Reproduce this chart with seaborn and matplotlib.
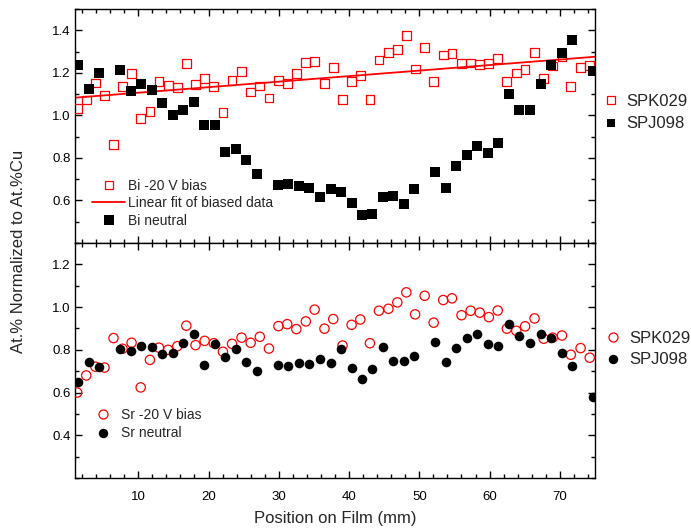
import numpy as np
import pandas as pd
import matplotlib
matplotlib.use("Agg")
import matplotlib.pyplot as plt
from matplotlib.lines import Line2D
from matplotlib.ticker import MultipleLocator, FormatStrFormatter
import seaborn as sns

# ---------------- data ----------------
bias_x = [1.31, 2.6, 3.9, 5.2, 6.48, 7.76, 9.05, 10.35, 11.66, 12.95, 14.25, 15.56, 16.84,
          18.15, 19.45, 20.75, 22.05, 23.35, 24.7, 26.0, 27.3, 28.6, 29.95, 31.2, 32.5, 33.85,
          35.1, 36.5, 37.75, 39.07, 40.36, 41.6, 42.97, 44.25, 45.6, 46.87, 48.15, 49.4, 50.76,
          52.04, 53.4, 54.65, 56.0, 57.3, 58.6, 59.9, 61.16, 62.45, 63.8, 65.05, 66.4, 67.7,
          68.98, 70.3, 71.56, 72.95, 74.25]
bi_bias = [1.032, 1.072, 1.152, 1.093, 0.863, 1.135, 1.197, 0.987, 1.020, 1.158,
           1.139, 1.132, 1.244, 1.144, 1.172, 1.135, 1.012, 1.165, 1.206, 1.110,
           1.138, 1.082, 1.165, 1.151, 1.197, 1.247, 1.252, 1.151, 1.224, 1.076,
           1.161, 1.189, 1.076, 1.260, 1.294, 1.311, 1.375, 1.218, 1.319, 1.160,
           1.284, 1.291, 1.244, 1.246, 1.240, 1.244, 1.269, 1.158, 1.199, 1.216,
           1.296, 1.174, 1.232, 1.275, 1.137, 1.225, 1.236]
sr_bias = [0.600, 0.680, 0.721, 0.717, 0.855, 0.805, 0.833, 0.624, 0.753, 0.810,
           0.800, 0.817, 0.913, 0.822, 0.842, 0.831, 0.791, 0.828, 0.857, 0.833,
           0.861, 0.806, 0.911, 0.920, 0.897, 0.933, 0.988, 0.899, 0.944, 0.820,
           0.917, 0.942, 0.831, 0.983, 0.992, 1.022, 1.069, 0.966, 1.053, 0.927,
           1.033, 1.041, 0.962, 0.983, 0.974, 0.953, 0.984, 0.899, 0.889, 0.910,
           0.947, 0.852, 0.857, 0.867, 0.777, 0.808, 0.763]

neutral_x = [1.45, 2.97, 4.44, 7.43, 8.92, 10.43, 11.95, 13.45, 14.94, 16.41, 17.94, 19.39,
             20.88, 22.35, 23.87, 25.35, 26.86, 29.86, 31.36, 32.85, 34.3, 35.84, 37.36, 38.84,
             40.36, 41.82, 43.32, 44.82, 46.3, 47.8, 49.3, 52.29, 53.8, 55.27, 56.8, 58.27,
             59.78, 61.26, 62.73, 64.25, 65.77, 67.25, 68.76, 70.28, 71.75, 74.65]
bi_neutral = [1.238, 1.123, 1.197, 1.213, 1.116, 1.146, 1.119, 1.060, 1.004, 1.023,
              1.062, 0.957, 0.956, 0.828, 0.843, 0.790, 0.726, 0.672, 0.678, 0.667,
              0.658, 0.614, 0.656, 0.642, 0.586, 0.530, 0.538, 0.614, 0.623, 0.584,
              0.655, 0.734, 0.659, 0.762, 0.812, 0.856, 0.825, 0.870, 1.101, 1.027,
              1.024, 1.146, 1.235, 1.294, 1.353, 1.210]
sr_neutral = [0.650, 0.741, 0.719, 0.806, 0.796, 0.819, 0.811, 0.780, 0.786, 0.831,
              0.875, 0.728, 0.825, 0.767, 0.805, 0.745, 0.703, 0.730, 0.722, 0.739,
              0.735, 0.758, 0.739, 0.802, 0.716, 0.664, 0.711, 0.814, 0.747, 0.749,
              0.769, 0.838, 0.745, 0.808, 0.855, 0.873, 0.827, 0.819, 0.920, 0.867,
              0.833, 0.875, 0.857, 0.784, 0.725, 0.578]

top_legend_labels = ["Bi -20 V bias", "Linear fit of biased data", "Bi neutral"]
bottom_legend_labels = ["Sr -20 V bias", "Sr neutral"]
sample_labels = ["SPK029", "SPJ098"]
x_label = "Position on Film (mm)"
y_label = "At.% Normalized to At.%Cu"

# ---------------- style ----------------
sns.set_theme(style="ticks")
plt.rcParams["font.family"] = ["Liberation Sans", "DejaVu Sans"]
plt.rcParams.update({
    "axes.linewidth": 1.0,
    "xtick.direction": "in", "ytick.direction": "in",
    "xtick.major.size": 5, "ytick.major.size": 5,
    "xtick.minor.size": 3, "ytick.minor.size": 3,
    "xtick.major.width": 1.0, "ytick.major.width": 1.0,
    "xtick.minor.width": 1.0, "ytick.minor.width": 1.0,
    "xtick.color": "black", "ytick.color": "black",
    "xtick.labelsize": 9.5, "ytick.labelsize": 9.5,
    "axes.edgecolor": "black",
})

RED = "#ff0000"
fig = plt.figure(figsize=(6.91, 5.32), dpi=100)
L, W = 75 / 691, 520 / 691
ax_top = fig.add_axes([L, 1 - 243 / 532, W, 234 / 532])
ax_bot = fig.add_axes([L, 1 - 478 / 532, W, 235 / 532])

for ax in (ax_top, ax_bot):
    ax.set_xlim(1, 75)

df_bias = pd.DataFrame({"x": bias_x, "bi": bi_bias, "sr": sr_bias})
df_neu = pd.DataFrame({"x": neutral_x, "bi": bi_neutral, "sr": sr_neutral})

# top panel
sns.regplot(data=df_bias, x="x", y="bi", ax=ax_top, scatter=False, ci=None,
            truncate=False, color=RED, line_kws={"lw": 1.3})
sns.scatterplot(data=df_bias, x="x", y="bi", ax=ax_top, marker="s", s=40,
                facecolor="none", edgecolor=RED, linewidth=0.9, zorder=3)
sns.scatterplot(data=df_neu, x="x", y="bi", ax=ax_top, marker="s", s=50,
                color="black", linewidth=0, zorder=4)

# bottom panel
sns.scatterplot(data=df_bias, x="x", y="sr", ax=ax_bot, marker="o", s=45,
                facecolor="none", edgecolor=RED, linewidth=0.9, zorder=3)
sns.scatterplot(data=df_neu, x="x", y="sr", ax=ax_bot, marker="o", s=48,
                color="black", linewidth=0, zorder=4)

ax_top.set_ylim(0.4, 1.5)
ax_bot.set_ylim(0.2, 1.3)
ax_top.set_yticks([0.6, 0.8, 1.0, 1.2, 1.4])
ax_bot.set_yticks([0.4, 0.6, 0.8, 1.0, 1.2])

for ax in (ax_top, ax_bot):
    ax.set_xlim(1, 75)
    ax.set_xticks([10, 20, 30, 40, 50, 60, 70])
    ax.xaxis.set_minor_locator(MultipleLocator(2))
    ax.yaxis.set_minor_locator(MultipleLocator(0.1))
    ax.yaxis.set_major_formatter(FormatStrFormatter("%.1f"))
    ax.tick_params(which="both", top=True, right=True, direction="in")
    ax.tick_params(axis="y", pad=3)
    ax.tick_params(axis="x", pad=9)
    ax.set_xlabel("")
    ax.set_ylabel("")
    for s in ax.spines.values():
        s.set_visible(True)
        s.set_color("black")
ax_top.tick_params(axis="x", labelbottom=False)

# inner legends
h_top = [Line2D([], [], ls="none", marker="s", ms=6.3, mfc="none", mec=RED, mew=0.9),
         Line2D([], [], color=RED, lw=1.3),
         Line2D([], [], ls="none", marker="s", ms=7, mfc="black", mec="black", mew=0)]
ax_top.legend(h_top, top_legend_labels, loc="upper left", bbox_to_anchor=(0.033, 0.275),
              frameon=False, fontsize=10, handlelength=2.4, handletextpad=0.2,
              borderpad=0, borderaxespad=0, labelspacing=0.26)
h_bot = [Line2D([], [], ls="none", marker="o", ms=6.5, mfc="none", mec=RED, mew=0.9),
         Line2D([], [], ls="none", marker="o", ms=6.8, mfc="black", mec="black", mew=0)]
ax_bot.legend(h_bot, bottom_legend_labels, loc="upper left", bbox_to_anchor=(0.033, 0.297),
              frameon=False, fontsize=10, handlelength=1.5, handletextpad=0.6,
              borderpad=0, borderaxespad=0, labelspacing=0.3)

# outer legends
h_o1 = [Line2D([], [], ls="none", marker="s", ms=5.2, mfc="none", mec=RED, mew=0.9),
        Line2D([], [], ls="none", marker="s", ms=5.2, mfc="black", mec="black", mew=0)]
fig.legend(h_o1, sample_labels, loc="upper left", bbox_to_anchor=(603 / 691, 1 - 94 / 532),
           frameon=False, fontsize=12, handlelength=1.0, handletextpad=0.4,
           borderpad=0, borderaxespad=0, labelspacing=0.45)
h_o2 = [Line2D([], [], ls="none", marker="o", ms=6.5, mfc="none", mec=RED, mew=0.9),
        Line2D([], [], ls="none", marker="o", ms=6.8, mfc="black", mec="black", mew=0)]
fig.legend(h_o2, sample_labels, loc="upper left", bbox_to_anchor=(605 / 691, 1 - 331 / 532),
           frameon=False, fontsize=12, handlelength=1.0, handletextpad=0.45,
           borderpad=0, borderaxespad=0, labelspacing=0.38)

fig.text(19 / 691, 1 - 251 / 532, y_label, rotation=90, ha="center", va="center", fontsize=12)
fig.text(335 / 691, 1 - 518 / 532, x_label, ha="center", va="center", fontsize=12)

fig.savefig("out.png", dpi=100)
